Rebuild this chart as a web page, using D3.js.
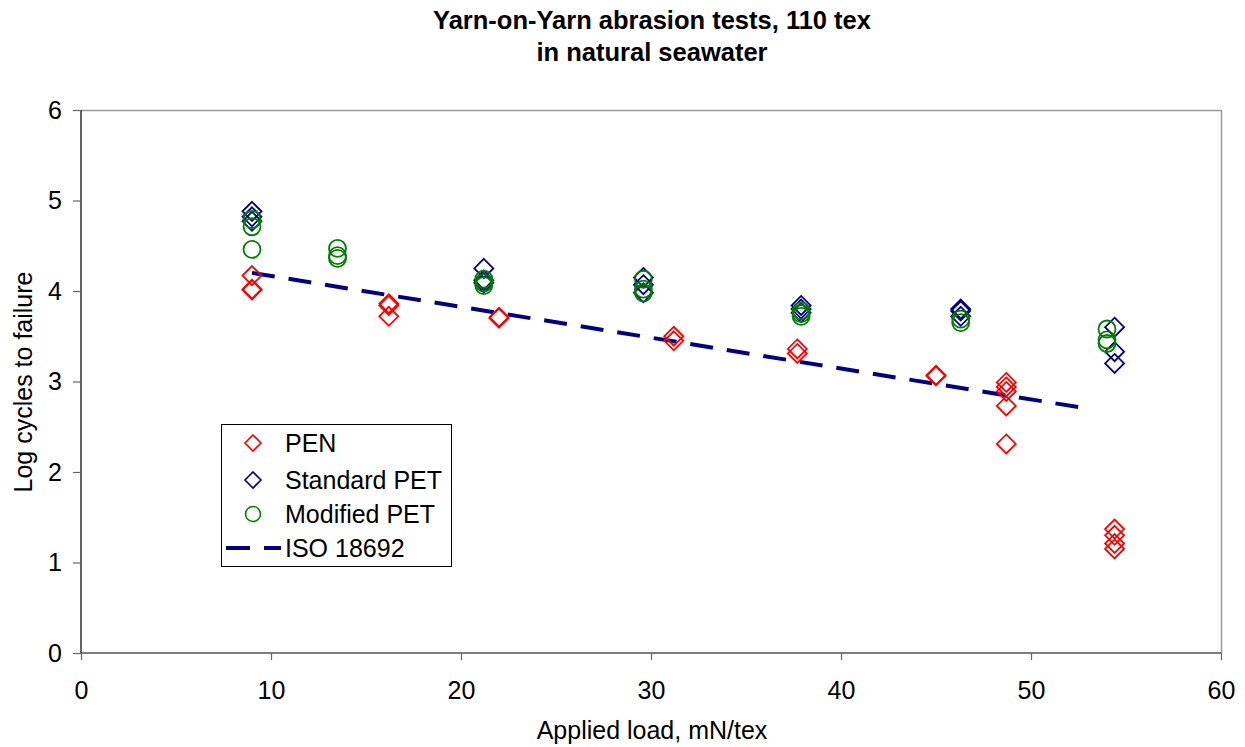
<!DOCTYPE html>
<html><head><meta charset="utf-8">
<script src="https://cdn.jsdelivr.net/npm/d3@7"></script>
<style>body{margin:0;background:#fff}svg{display:block;font-family:"Liberation Sans",Arial,sans-serif}</style>
</head><body><svg id="c" width="1245" height="747"></svg>
<script>
const titleLines = ["Yarn-on-Yarn abrasion tests, 110 tex", "in natural seawater"];
const xTicks = [0,10,20,30,40,50,60];
const yTicks = [0,1,2,3,4,5,6];
const seriesNames = ["PEN","Standard PET","Modified PET","ISO 18692"];
const penX = [9,9,9,16.2,16.2,16.2,22,22,31.2,31.2,37.7,37.7,45,45,48.7,48.7,48.7,48.7,48.7,54.4,54.4,54.4,54.4];
const penY = [4.17,4.02,4.01,3.86,3.84,3.72,3.71,3.70,3.50,3.45,3.36,3.31,3.07,3.06,2.99,2.94,2.89,2.73,2.31,1.37,1.30,1.21,1.15];
const stdX = [9,9,9,21.2,21.2,21.2,29.6,29.6,29.6,37.9,37.9,37.9,46.3,46.3,46.3,54.4,54.4,54.4];
const stdY = [4.88,4.82,4.77,4.25,4.12,4.09,4.15,4.07,3.98,3.84,3.80,3.76,3.80,3.78,3.72,3.60,3.33,3.20];
const modX = [9,9,9,13.5,13.5,13.5,21.2,21.2,21.2,29.6,29.6,29.6,37.9,37.9,37.9,46.3,46.3,54.0,54.0,54.0];
const modY = [4.79,4.71,4.46,4.47,4.39,4.36,4.13,4.09,4.06,4.13,4.02,3.98,3.78,3.75,3.72,3.69,3.65,3.58,3.46,3.42];
const isoX = [9,53];
const isoY = [4.2,2.7];

const FS = 25;
const svg = d3.select("#c");
const L=81,R=1221,T=110,B=653;
const x = d3.scaleLinear().domain([0,60]).range([L,R]);
const y = d3.scaleLinear().domain([0,6]).range([B,T]);

// frame
svg.append("line").attr("x1",L).attr("x2",R).attr("y1",T+0.5).attr("y2",T+0.5).attr("stroke","#999").attr("stroke-width",1.5);
svg.append("line").attr("x1",R+0.5).attr("x2",R+0.5).attr("y1",T).attr("y2",B).attr("stroke","#999").attr("stroke-width",1.5);

const xa = svg.append("g").attr("transform",`translate(0,${B})`)
  .call(d3.axisBottom(x).tickValues(xTicks).tickFormat(d3.format("d")).tickSize(7).tickPadding(21));
const ya = svg.append("g").attr("transform",`translate(${L},0)`)
  .call(d3.axisLeft(y).tickValues(yTicks).tickFormat(d3.format("d")).tickSize(8).tickPadding(11));
[xa,ya].forEach(a=>{
  a.select(".domain").attr("stroke","#000").attr("stroke-width",1.2);
  a.selectAll(".tick line").attr("stroke","#666").attr("stroke-width",1.2);
  a.selectAll("text").attr("font-size",FS).attr("fill","#000").attr("font-family","Liberation Sans, Arial, sans-serif");
});
ya.select(".domain").attr("d",`M0,${T}V${B}`);
xa.select(".domain").attr("d",`M${L},0H${R}`);

// titles
svg.append("text").attr("x",652).attr("y",29).attr("text-anchor","middle").attr("font-weight","bold").attr("font-size",25.5).text(titleLines[0]);
svg.append("text").attr("x",652).attr("y",61).attr("text-anchor","middle").attr("font-weight","bold").attr("font-size",25.5).text(titleLines[1]);
svg.append("text").attr("x",652).attr("y",739).attr("text-anchor","middle").attr("font-size",FS).text("Applied load, mN/tex");
svg.append("text").attr("transform","translate(32,382) rotate(-90)").attr("text-anchor","middle").attr("font-size",FS).text("Log cycles to failure");

const diamond = s => `M0,${-s}L${s},0L0,${s}L${-s},0Z`;
const line = d3.line().x(d=>x(d[0])).y(d=>y(d[1]));

// ISO line
svg.append("path").attr("d",line(d3.zip(isoX,isoY))).attr("fill","none").attr("stroke","#000080").attr("stroke-width",4).attr("stroke-dasharray","23,14");

function drawDiamonds(xs,ys,col){
  svg.append("g").selectAll("path").data(d3.zip(xs,ys)).join("path")
    .attr("transform",d=>`translate(${x(d[0])},${y(d[1])})`)
    .attr("d",diamond(9.5)).attr("fill","none").attr("stroke",col).attr("stroke-width",1.8);
}
drawDiamonds(penX,penY,"#ff0000");
drawDiamonds(stdX,stdY,"#000080");
svg.append("g").selectAll("circle").data(d3.zip(modX,modY)).join("circle")
  .attr("cx",d=>x(d[0])).attr("cy",d=>y(d[1])).attr("r",8.5)
  .attr("fill","none").attr("stroke","#008000").attr("stroke-width",1.8);

// legend
const lg = svg.append("g");
lg.append("rect").attr("x",221.5).attr("y",424.5).attr("width",230).attr("height",142).attr("fill","#fff").attr("stroke","#000").attr("stroke-width",1);
const ly = [443,480,514,548];
const cols = ["#ff0000","#000080","#008000","#000080"];
ly.forEach((yy,i)=>{
  if(i<2) lg.append("path").attr("transform",`translate(253,${yy})`).attr("d",diamond(8)).attr("fill","none").attr("stroke",cols[i]).attr("stroke-width",1.6);
  else if(i===2) lg.append("circle").attr("cx",253).attr("cy",yy).attr("r",7.5).attr("fill","none").attr("stroke",cols[i]).attr("stroke-width",1.6);
  else lg.append("line").attr("x1",226).attr("x2",281).attr("y1",yy).attr("y2",yy).attr("stroke",cols[i]).attr("stroke-width",4).attr("stroke-dasharray","24,14");
  lg.append("text").attr("x",285).attr("y",yy+9).attr("font-size",FS).text(seriesNames[i]);
});
</script></body></html>
